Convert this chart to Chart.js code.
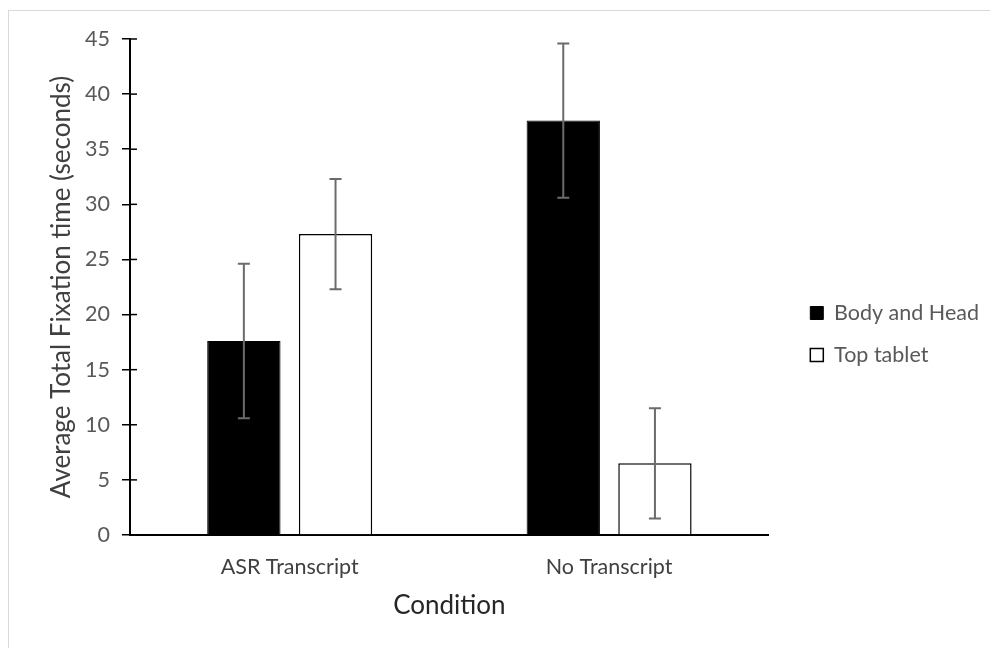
<!DOCTYPE html>
<html>
<head>
<meta charset="utf-8">
<script src="https://cdn.jsdelivr.net/npm/chart.js@4.4.1/dist/chart.umd.min.js"></script>
<style>
  body { margin: 0; background: #fff; }
  #frame { position: absolute; left: 8px; top: 10px; width: 1000px; height: 660px; border: 1px solid #d9d9d9; }
</style>
</head>
<body>
<div id="frame"><canvas id="myChart" width="981" height="637"></canvas></div>
<script>
// chart data
var conditions = ['ASR Transcript', 'No Transcript'];
var bodyHead = [17.6, 37.6];
var bodyHeadErr = [7.0, 7.0];
var topTablet = [27.3, 6.5];
var topTabletErr = [5.0, 5.0];
var yTicks = [0, 5, 10, 15, 20, 25, 30, 35, 40, 45];

// error bars drawn from the y scale
var errorBars = {
    id: 'errorBars',
    afterDatasetsDraw: function(chart) {
        var ctx = chart.ctx;
        var y = chart.scales.y;
        ctx.save();
        ctx.strokeStyle = '#6b6b6b';
        ctx.lineWidth = 2;
        chart.data.datasets.forEach(function(ds, di) {
            var meta = chart.getDatasetMeta(di);
            meta.data.forEach(function(bar, i) {
                var v = ds.data[i], e = ds.errors[i];
                var yHi = y.getPixelForValue(v + e);
                var yLo = y.getPixelForValue(v - e);
                ctx.beginPath();
                ctx.moveTo(bar.x, yHi); ctx.lineTo(bar.x, yLo);
                ctx.moveTo(bar.x - 6, yHi); ctx.lineTo(bar.x + 6, yHi);
                ctx.moveTo(bar.x - 6, yLo); ctx.lineTo(bar.x + 6, yLo);
                ctx.stroke();
            });
        });
        ctx.restore();
    }
};

// y ticks cross the axis, draw the inner half
var innerTicks = {
    id: 'innerTicks',
    afterDraw: function(chart) {
        var ctx = chart.ctx;
        var y = chart.scales.y;
        var left = chart.chartArea.left;
        ctx.save();
        ctx.strokeStyle = '#000';
        ctx.lineWidth = 1.5;
        y.ticks.forEach(function(t) {
            var py = y.getPixelForValue(t.value);
            ctx.beginPath();
            ctx.moveTo(left, py); ctx.lineTo(left + 7, py);
            ctx.stroke();
        });
        ctx.restore();
    }
};

// move the legend a bit off the plot
var legendShift = {
    id: 'legendShift',
    afterLayout: function(chart) {
        var lg = chart.legend;
        lg.left += 21; lg.right += 21;
        lg.top += 4; lg.bottom += 4;
    }
};

var ctx = document.getElementById('myChart').getContext('2d');
var myChart = new Chart(ctx, {
    type: 'bar',
    data: {
        labels: conditions,
        datasets: [{
            label: 'Body and Head',
            data: bodyHead,
            errors: bodyHeadErr,
            backgroundColor: '#000000',
            borderColor: '#000000',
            borderWidth: 1
        }, {
            label: 'Top tablet',
            data: topTablet,
            errors: topTabletErr,
            backgroundColor: '#ffffff',
            borderColor: '#000000',
            borderWidth: 1.5
        }]
    },
    options: {
        responsive: false,
        animation: false,
        categoryPercentage: 0.574,
        barPercentage: 0.8,
        layout: { padding: { left: 37, top: 28, right: 22, bottom: 27 } },
        plugins: {
            tooltip: { enabled: false },
            legend: {
                position: 'right',
                labels: {
                    boxWidth: 13,
                    boxHeight: 13,
                    padding: 20.5,
                    color: '#595959',
                    font: { family: 'Lato', size: 21.5 }
                }
            }
        },
        scales: {
            x: {
                afterFit: function(scale) { scale.height = 86; },
                grid: { drawOnChartArea: false, drawTicks: false },
                border: { color: '#000', width: 2 },
                ticks: { padding: 19, color: '#404040', font: { family: 'Lato', size: 21.5 } },
                title: {
                    display: true,
                    text: 'Condition',
                    color: '#262626',
                    padding: 0,
                    font: { family: 'Lato', size: 26 }
                }
            },
            y: {
                min: 0,
                max: 45,
                afterFit: function(scale) { scale.width = 84; },
                afterBuildTicks: function(scale) {
                    scale.ticks = yTicks.map(function(v) { return { value: v }; });
                },
                grid: { drawOnChartArea: false, drawTicks: true, tickLength: 8, color: '#000', lineWidth: 1.5 },
                border: { color: '#000', width: 2 },
                ticks: { padding: 12, color: '#595959', font: { family: 'Lato', size: 21.5 } },
                title: {
                    display: true,
                    text: 'Average Total Fixation time (seconds)',
                    color: '#404040',
                    padding: 0,
                    font: { family: 'Lato', size: 26 }
                }
            }
        }
    },
    plugins: [errorBars, innerTicks, legendShift]
});
</script>
</body>
</html>
